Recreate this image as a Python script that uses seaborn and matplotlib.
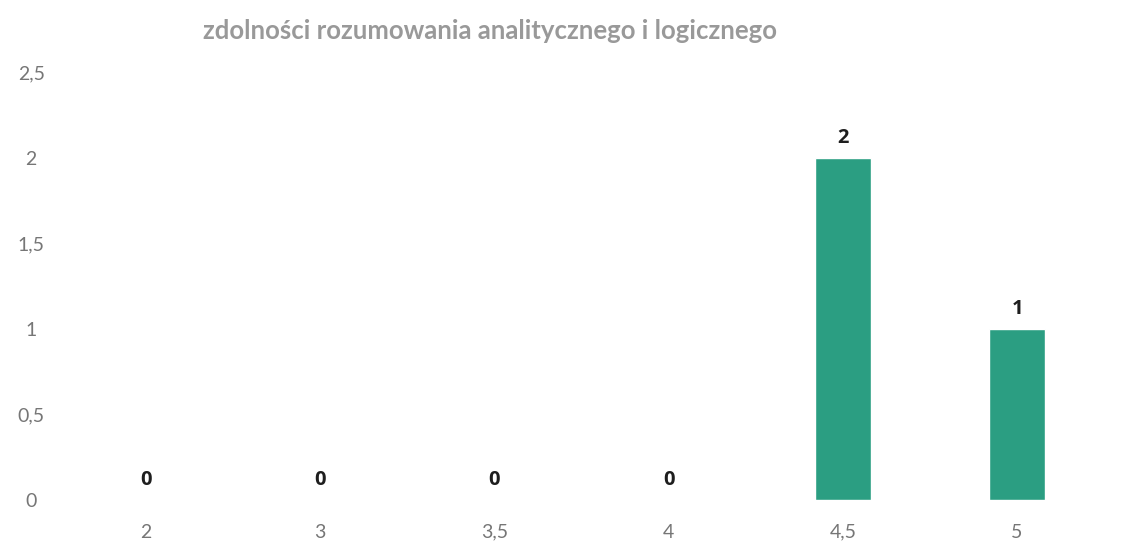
import numpy as np
import pandas as pd
import seaborn as sns
from matplotlib import pyplot as plt
import matplotlib as mpl

# grades and how many times each was given
grades = ['2', '3', '3,5', '4', '4,5', '5']
counts = [0, 0, 0, 0, 2, 1]
yticks = [0, 0.5, 1, 1.5, 2, 2.5]
ytick_labels = ['0', '0,5', '1', '1,5', '2', '2,5']
title = 'zdolności rozumowania analitycznego i logicznego'

bar_color = '#2b9e82'

sns.set_style('white')
plt.rcParams['font.family'] = ['Lato', 'DejaVu Sans']

df = pd.DataFrame({'ocena': grades, 'liczba': counts})

fig = plt.figure(figsize=(11.21, 5.59), dpi=100)
ax = fig.add_axes([0.0526, 0.1055, 0.9324, 0.7645])

sns.barplot(data=df, x='ocena', y='liczba', order=grades, color=bar_color,
            saturation=1, width=0.32, ax=ax)

ax.bar_label(ax.containers[0], labels=[str(c) for c in counts], padding=7,
             fontsize=14.5, fontweight='bold', color='#1e1e1e',
             family=['Open Sans', 'DejaVu Sans'])

ax.set_ylim(0, 2.5)
ax.set_xlim(-0.5, len(grades) - 0.5)
ax.set_yticks(yticks)
ax.set_yticklabels(ytick_labels, ha='center')
ax.tick_params(axis='both', length=0, labelsize=14, labelcolor='#767676')
ax.tick_params(axis='y', pad=20)
ax.tick_params(axis='x', pad=17)
ax.set_xlabel('')
ax.set_ylabel('')
sns.despine(ax=ax, left=True, bottom=True)

fig.text(0.437, 0.945, title, ha='center', va='center', fontsize=18.5,
         color='#999999', fontweight='bold')

plt.savefig('out.png', dpi=100)
plt.close()
